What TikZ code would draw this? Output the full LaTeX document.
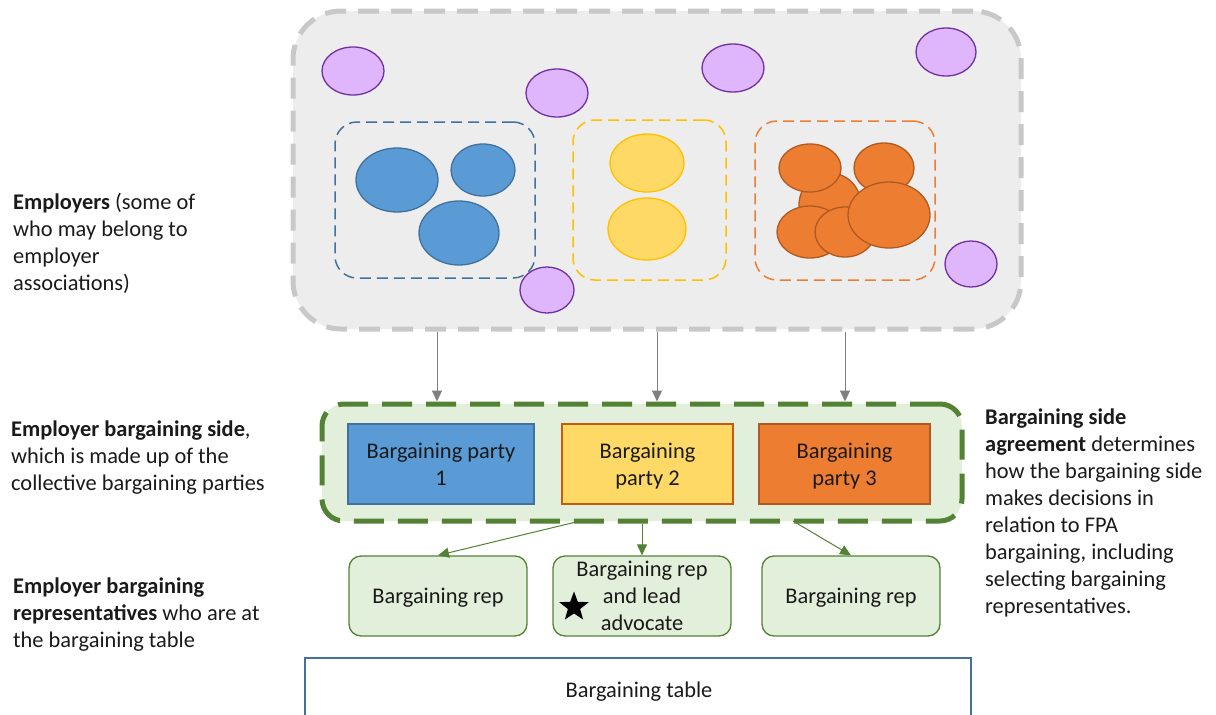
\documentclass[tikz,border=0pt]{standalone}
\usepackage{fontspec}
\setmainfont{Carlito}
\usetikzlibrary{shapes.geometric,arrows.meta}
\definecolor{grayfill}{HTML}{EDEDED}
\definecolor{grayline}{HTML}{C8C8C8}
\definecolor{purfill}{HTML}{DFB5FB}
\definecolor{purline}{HTML}{7030A0}
\definecolor{bluefill}{HTML}{5B9BD5}
\definecolor{blueline}{HTML}{41719C}
\definecolor{yelfill}{HTML}{FFD966}
\definecolor{yelline}{HTML}{FFC000}
\definecolor{orfill}{HTML}{ED7D31}
\definecolor{orline}{HTML}{AE5A21}
\definecolor{orborder}{HTML}{C55A11}
\definecolor{grnfill}{HTML}{E2EFDA}
\definecolor{grnline}{HTML}{548235}
\definecolor{arrgray}{HTML}{7F7F7F}
\definecolor{txtcol}{HTML}{1A1A1A}
\tikzset{
  txt/.style={font=\fontsize{22.4}{27}\selectfont, text=txtcol, inner sep=0pt, align=left, anchor=base west},
  blob/.style={ellipse, draw, line width=1.3pt, inner sep=0pt},
  purple/.style={blob, fill=purfill, draw=purline, minimum width=62pt, minimum height=48pt},
  bluec/.style={blob, fill=bluefill, draw=blueline},
  yelc/.style={blob, fill=yelfill, draw=yelline},
  orc/.style={blob, fill=orfill, draw=orline},
  grp/.style={draw, rounded corners=22pt, line width=1.5pt, dash pattern=on 11pt off 6pt, inner sep=0pt},
  party/.style={draw, line width=1.3pt, minimum width=#1, minimum height=80pt, inner sep=0pt, align=center, text=txtcol, text depth=0pt, font=\fontsize{22.4}{27}\selectfont},
  rep/.style={draw=grnline, fill=grnfill, line width=1.3pt, rounded corners=12pt, minimum width=178pt, minimum height=80pt, inner sep=0pt, align=center, text=txtcol, text depth=0pt, font=\fontsize{22.4}{27}\selectfont},
  garrow/.style={draw=arrgray, line width=1pt, -{Triangle[width=10pt,length=11pt]}},
  grarrow/.style={draw=grnline, line width=1pt, -{Triangle[width=10pt,length=11pt]}},
}
\begin{document}
\begin{tikzpicture}[x=1pt,y=-1pt]
\useasboundingbox (0,0) rectangle (1216,715);
% employers box
\node[draw=grayline, fill=grayfill, line width=5pt, dash pattern=on 21pt off 12pt, rounded corners=48pt, minimum width=728pt, minimum height=318pt, inner sep=0pt] (emp) at (657,170) {};
% groups
\node[grp, draw=blueline, minimum width=200pt, minimum height=156pt] (gb) at (435,200) {};
\node[grp, draw=yelline, minimum width=153pt, minimum height=160pt] (gy) at (649.5,200) {};
\node[grp, draw=orfill, minimum width=180pt, minimum height=159pt] (go) at (845,200.5) {};
% purple
\node[purple] (pu1) at (353,71) {};
\node[purple] (pu2) at (557,93) {};
\node[purple] (pu3) at (733,68) {};
\node[purple, minimum width=60pt] (pu4) at (946,52) {};
\node[purple, minimum width=54pt, minimum height=46pt] (pu5) at (547,290) {};
\node[purple, minimum width=52pt, minimum height=46pt] (pu6) at (971,264) {};
% blue
\node[bluec, minimum width=82pt, minimum height=64pt] (b1) at (397,180) {};
\node[bluec, minimum width=64pt, minimum height=52pt] (b2) at (483,170) {};
\node[bluec, minimum width=80pt, minimum height=64pt] (b3) at (459,233) {};
% yellow
\node[yelc, minimum width=74pt, minimum height=58pt] (y1) at (647,163) {};
\node[yelc, minimum width=78pt, minimum height=62pt] (y2) at (647,229) {};
% orange
\node[orc, minimum width=62pt, minimum height=64pt] (o0) at (830,205) {};
\node[orc, minimum width=62pt, minimum height=48pt] (o1) at (810,168) {};
\node[orc, minimum width=60pt, minimum height=50pt] (o2) at (884,168) {};
\node[orc, minimum width=66pt, minimum height=52pt] (o3) at (810,232) {};
\node[orc, minimum width=60pt, minimum height=50pt] (o4) at (845,232) {};
\node[orc, minimum width=82pt, minimum height=66pt] (o5) at (889,215) {};
% bargaining side
\node[draw=grnline, fill=grnfill, line width=5pt, dash pattern=on 30pt off 14pt, rounded corners=22pt, minimum width=640pt, minimum height=117pt, inner sep=0pt] (side) at (642,462.5) {};
\node[party=186pt, fill=bluefill, draw=blueline] (p1) at (441,464) {Bargaining party\\1};
\node[party=171pt, fill=yelfill, draw=orborder] (p2) at (647.5,464) {Bargaining\\party 2};
\node[party=171pt, fill=orfill, draw=orline] (p3) at (844.5,464) {Bargaining\\party 3};
% arrows from employers
\draw[garrow] (emp.south -| 437,0) -- (side.north -| 437,0);
\draw[garrow] (emp.south -| 657,0) -- (side.north -| 657,0);
\draw[garrow] (emp.south -| 845,0) -- (side.north -| 845,0);
% reps
\node[rep] (r1) at (438,596) {Bargaining rep};
\node[rep] (r2) at (642,596) {Bargaining rep\\and lead\\advocate};
\node[rep] (r3) at (851,596) {Bargaining rep};
\node[star, star points=5, star point ratio=2.4, fill=black, inner sep=0pt, minimum size=31pt] (star) at (574,607) {};
\coordinate (s1) at (580,521);
\coordinate (s3) at (793,521);
\draw[grarrow] (s1) -- (r1.north);
\draw[grarrow] (side.south -| r2.north) -- (r2.north);
\draw[grarrow] (s3) -- (r3.north);
% table
\draw[blueline, line width=1.3pt, fill=white] (305,720) -- (305,658) -- (971,658) -- (971,720);
\node[font=\fontsize{22.4}{27}\selectfont, text=txtcol, text depth=0pt, inner sep=0pt] (table) at (639,690) {Bargaining table};
% left texts
\node[txt] (t1) at (13,290) {\textbf{Employers} (some of\\who may belong to\\employer\\associations)};
\node[txt] (t2) at (11,490) {\textbf{Employer bargaining side},\\which is made up of the\\collective bargaining parties};
\node[txt] (t3) at (13,647) {\textbf{Employer bargaining}\\\textbf{representatives} who are at\\the bargaining table};
\node[txt] (t4) at (985,613) {\textbf{Bargaining side}\\\textbf{agreement} determines\\how the bargaining side\\makes decisions in\\relation to FPA\\bargaining, including\\selecting bargaining\\representatives.};
\end{tikzpicture}
\end{document}
